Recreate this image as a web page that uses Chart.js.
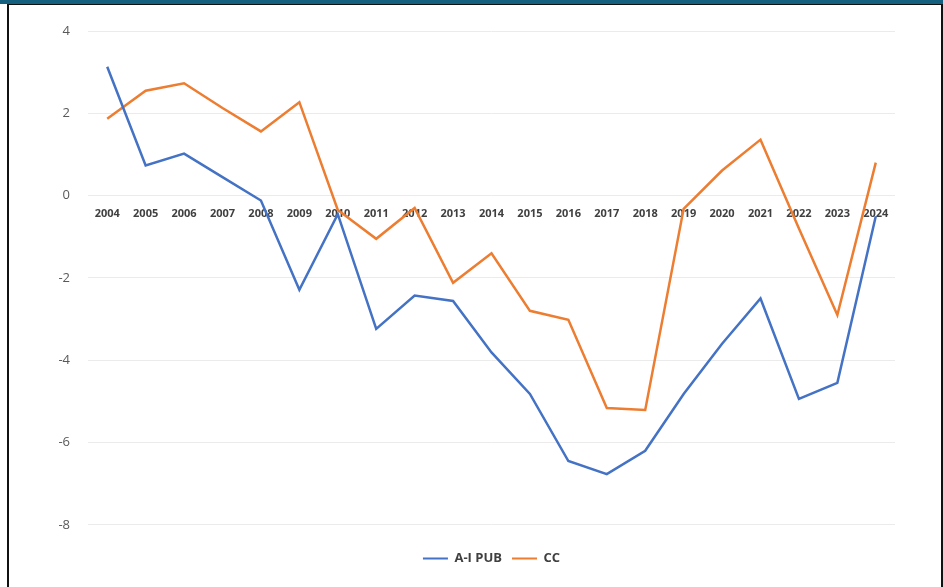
<!DOCTYPE html>
<html>
<head>
<meta charset="utf-8">
<script src="https://cdn.jsdelivr.net/npm/chart.js@4/dist/chart.umd.min.js"></script>
<style>
  html, body { margin: 0; padding: 0; background: #fff; }
  #wrap { position: relative; width: 943px; height: 587px; overflow: hidden; }
  #band { position: absolute; left: 0; top: 0; width: 943px; height: 4px; background: #15607f; }
  #box { position: absolute; left: 7px; top: 4px; width: 932px; height: 600px;
         border-top: 1px solid #111; border-left: 2px solid #111; border-right: 2px solid #111; }
  canvas { position: absolute; left: 0; top: 0; }
</style>
</head>
<body>
<div id="wrap">
  <div id="band"></div>
  <div id="box"></div>
  <canvas id="chart" width="943" height="587"></canvas>
</div>
<script>
(function () {
    'use strict';

    var years = ['2004', '2005', '2006', '2007', '2008', '2009', '2010', '2011', '2012', '2013', '2014',
                 '2015', '2016', '2017', '2018', '2019', '2020', '2021', '2022', '2023', '2024'];
    var aiPub = [3.13, 0.73, 1.02, 0.45, -0.12, -2.29, -0.45, -3.24, -2.43, -2.56, -3.81,
                 -4.82, -6.45, -6.77, -6.2, -4.82, -3.6, -2.5, -4.94, -4.55, -0.5];
    var cc = [1.87, 2.55, 2.73, 2.13, 1.56, 2.27, -0.35, -1.05, -0.3, -2.12, -1.4,
              -2.8, -3.02, -5.16, -5.21, -0.32, 0.61, 1.36, -0.8, -2.9, 0.8];

    var BLUE = '#4472c4';
    var ORANGE = '#ed7d31';

    var el = document.getElementById('chart');
    new Chart(el, {
        type: 'line',
        data: {
            labels: years,
            datasets: [
                { label: 'A-I PUB', data: aiPub, borderColor: BLUE, backgroundColor: BLUE,
                  borderWidth: 2.5, pointRadius: 0, tension: 0 },
                { label: 'CC', data: cc, borderColor: ORANGE, backgroundColor: ORANGE,
                  borderWidth: 2.5, pointRadius: 0, tension: 0 }
            ]
        },
        options: {
            responsive: false,
            animation: false,
            layout: { padding: { left: 8, right: 48, top: 31, bottom: 12 } },
            plugins: {
                tooltip: { enabled: false },
                legend: {
                    position: 'bottom',
                    fullSize: false,
                    // empty title only pushes the legend row further below the plot
                    title: { display: true, text: ' ', font: { size: 1 }, padding: { top: 16, bottom: 0 } },
                    labels: {
                        boxWidth: 25,
                        boxHeight: 2,
                        padding: 10,
                        color: '#404040',
                        font: { family: '"Open Sans", sans-serif', size: 13, weight: 'bold' },
                        generateLabels: function (chart) {
                            var items = Chart.defaults.plugins.legend.labels.generateLabels(chart);
                            items.forEach(function (it) { it.lineWidth = 0; });
                            return items;
                        }
                    }
                }
            },
            scales: {
                x: {
                    position: { y: 0 },
                    offset: true,
                    grid: { display: false, drawTicks: false },
                    border: { display: false },
                    ticks: {
                        padding: 12,
                        maxRotation: 0,
                        autoSkip: false,
                        color: '#404040',
                        font: { family: '"Open Sans", sans-serif', size: 11, weight: 'bold' }
                    }
                },
                y: {
                    min: -8,
                    max: 4,
                    afterFit: function (scale) { scale.width = 80; },
                    grid: { color: '#ebebeb', lineWidth: 1, drawTicks: false },
                    border: { display: false },
                    ticks: {
                        stepSize: 2,
                        padding: 18,
                        color: '#595959',
                        font: { family: '"Open Sans", sans-serif', size: 13 }
                    }
                }
            }
        }
    });
})();
</script>
</body>
</html>
